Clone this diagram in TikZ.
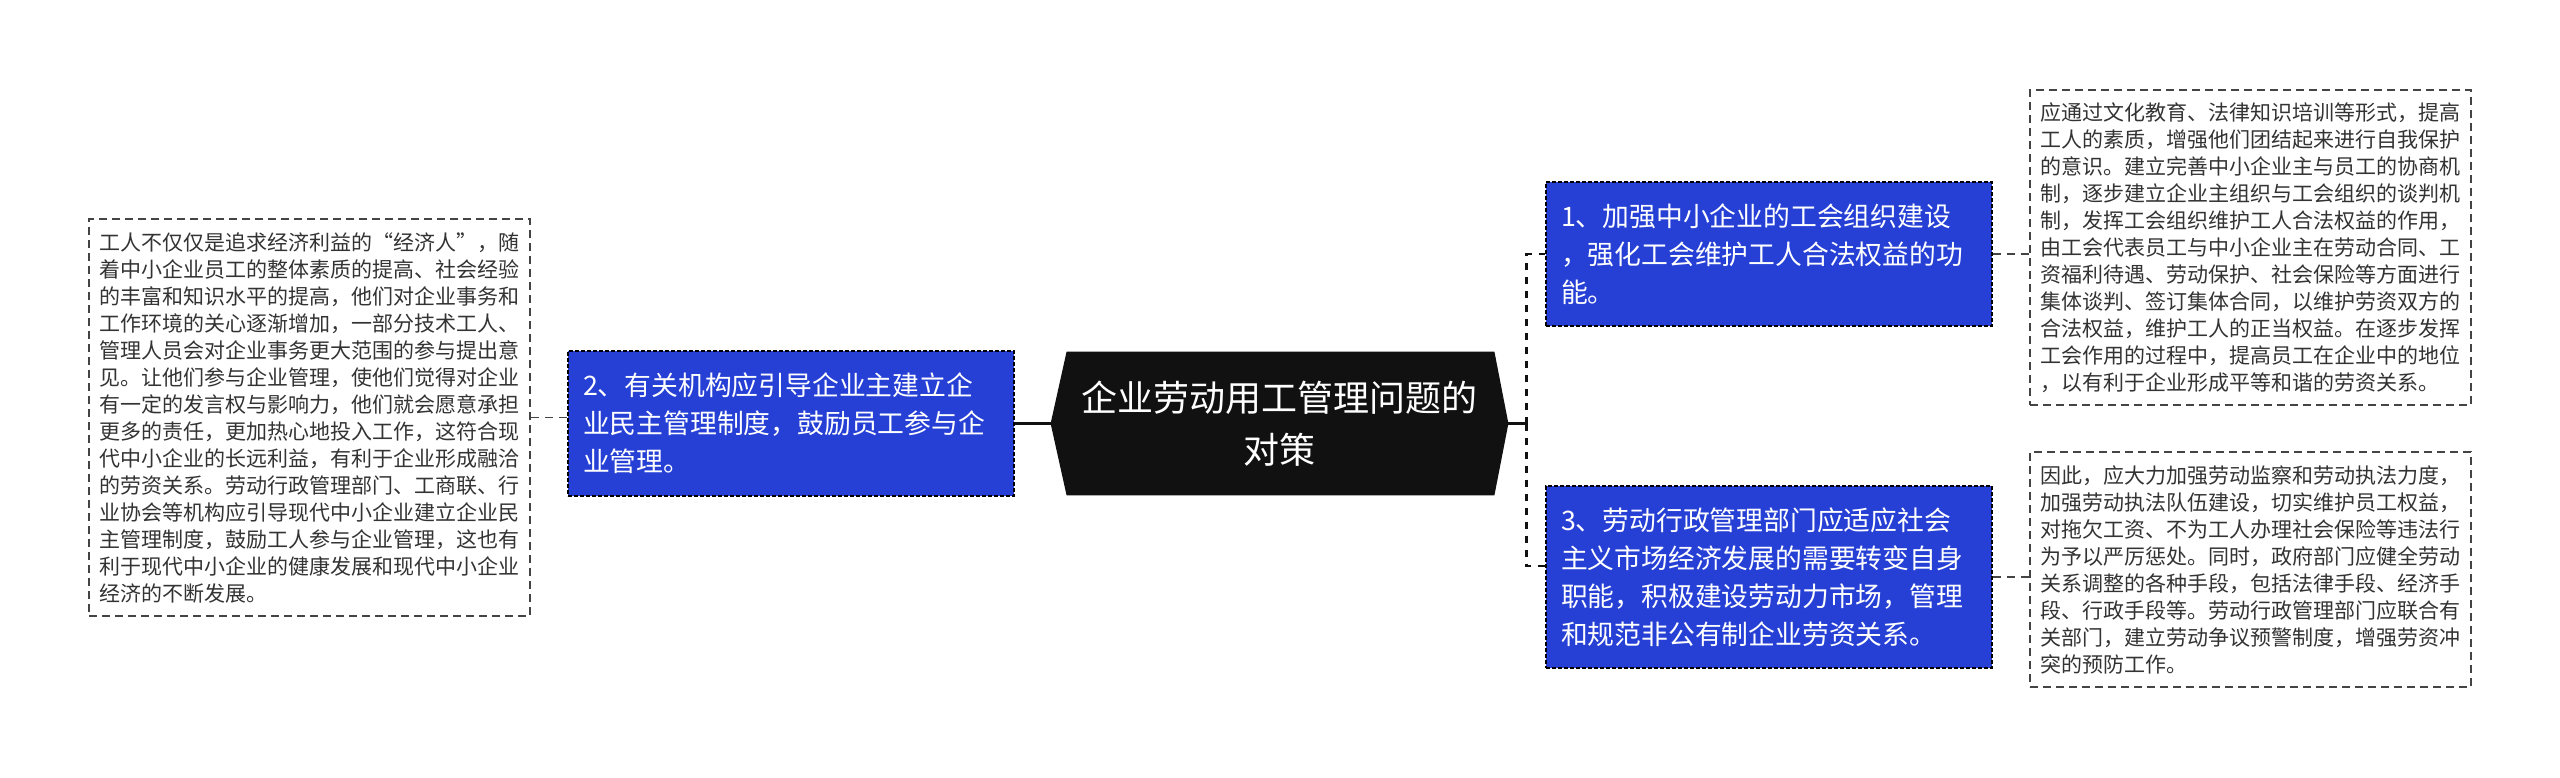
\documentclass[tikz,border=0pt]{standalone}
\usepackage{fontspec}
\setmainfont{Noto Sans CJK SC}
\usepackage{tikz}
\usetikzlibrary{calc,backgrounds}
\usepackage{xcolor}
\definecolor{branch-blue}{RGB}{38,64,214}
\definecolor{root-black}{RGB}{17,17,17}
\definecolor{leaf-gray}{RGB}{68,68,68}
\definecolor{text-gray}{RGB}{51,51,51}
\tikzstyle{branch}=[fill=branch-blue, draw=black, line width=0.6pt, dash pattern=on 2pt off 1pt, text=white, align=left, text width=208pt, inner xsep=7.5pt, font=\fontsize{13.4pt}{19pt}\selectfont]
\tikzstyle{leaf}=[fill=white, draw=leaf-gray, line width=0.75pt, dash pattern=on 4pt off 2.5pt, text=text-gray, align=left, text width=210pt, inner xsep=5.25pt, font=\fontsize{10.5pt}{13.5pt}\selectfont]
\tikzstyle{trunk}=[draw=root-black, line width=1.5pt]
\tikzstyle{twig}=[draw=leaf-gray, line width=0.75pt, dash pattern=on 4pt off 3pt]
\tikzstyle{spine}=[draw=root-black, line width=1.25pt, dash pattern=on 3.5pt off 3.5pt]

\begin{document}
\begin{tikzpicture}[x=0.5pt, y=-0.5pt]
	\useasboundingbox (0,0) rectangle (2560,777);
	\node[text=white, align=center, minimum width=228.5pt, minimum height=71.5pt, font=\fontsize{18pt}{26pt}\selectfont] (root) at (1279.5,423.5) {企业劳动用工管理问题的\\对策};
	\begin{scope}[on background layer]
		\fill[root-black] (root.west) -- ($(root.north west)+(16,0)$) -- ($(root.north east)+(-14,0)$) -- (root.east) -- ($(root.south east)+(-14,0)$) -- ($(root.south west)+(16,0)$) -- cycle;
	\end{scope}
	\node[branch, minimum height=72.5pt] (n2) at (791,423.5) {2、有关机构应引导企业主建立企\\
		业民主管理制度，鼓励员工参与企\\
		业管理。};
	\node[branch, minimum height=72pt] (n1) at (1769,254) {1、加强中小企业的工会组织建设\\
		，强化工会维护工人合法权益的功\\
		能。};
	\node[branch, minimum height=91pt] (n3) at (1769,577) {3、劳动行政管理部门应适应社会\\
		主义市场经济发展的需要转变自身\\
		职能，积极建设劳动力市场，管理\\
		和规范非公有制企业劳资关系。};
	\node[leaf, minimum height=198.5pt] (lfL) at (309.5,417.5) {工人不仅仅是追求经济利益的“经济人”，随\\
		着中小企业员工的整体素质的提高、社会经验\\
		的丰富和知识水平的提高，他们对企业事务和\\
		工作环境的关心逐渐增加，一部分技术工人、\\
		管理人员会对企业事务更大范围的参与提出意\\
		见。让他们参与企业管理，使他们觉得对企业\\
		有一定的发言权与影响力，他们就会愿意承担\\
		更多的责任，更加热心地投入工作，这符合现\\
		代中小企业的长远利益，有利于企业形成融洽\\
		的劳资关系。劳动行政管理部门、工商联、行\\
		业协会等机构应引导现代中小企业建立企业民\\
		主管理制度，鼓励工人参与企业管理，这也有\\
		利于现代中小企业的健康发展和现代中小企业\\
		经济的不断发展。};
	\node[leaf, minimum height=157.5pt] (lf1) at (2250.5,247.5) {应通过文化教育、法律知识培训等形式，提高\\
		工人的素质，增强他们团结起来进行自我保护\\
		的意识。建立完善中小企业主与员工的协商机\\
		制，逐步建立企业主组织与工会组织的谈判机\\
		制，发挥工会组织维护工人合法权益的作用，\\
		由工会代表员工与中小企业主在劳动合同、工\\
		资福利待遇、劳动保护、社会保险等方面进行\\
		集体谈判、签订集体合同，以维护劳资双方的\\
		合法权益，维护工人的正当权益。在逐步发挥\\
		工会作用的过程中，提高员工在企业中的地位\\
		，以有利于企业形成平等和谐的劳资关系。};
	\node[leaf, minimum height=117.5pt] (lf2) at (2250.5,569.5) {因此，应大力加强劳动监察和劳动执法力度，\\
		加强劳动执法队伍建设，切实维护员工权益，\\
		对拖欠工资、不为工人办理社会保险等违法行\\
		为予以严厉惩处。同时，政府部门应健全劳动\\
		关系调整的各种手段，包括法律手段、经济手\\
		段、行政手段等。劳动行政管理部门应联合有\\
		关部门，建立劳动争议预警制度，增强劳资冲\\
		突的预防工作。};
	\draw[twig] (lfL.east) -- (lfL.east -| n2.west);
	\draw[trunk] (n2.east) -- (root.west);
	\draw[trunk] (root.east) -- ++(18,0) coordinate (fork);
	\draw[spine] (fork) |- (n1.west);
	\draw[spine] (fork) |- ($(n3.west)+(0,-11)$);
	\draw[twig] (n1.east) -- (n1.east -| lf1.west);
	\draw[twig] (n3.east) -- (n3.east -| lf2.west);
\end{tikzpicture}
\end{document}
